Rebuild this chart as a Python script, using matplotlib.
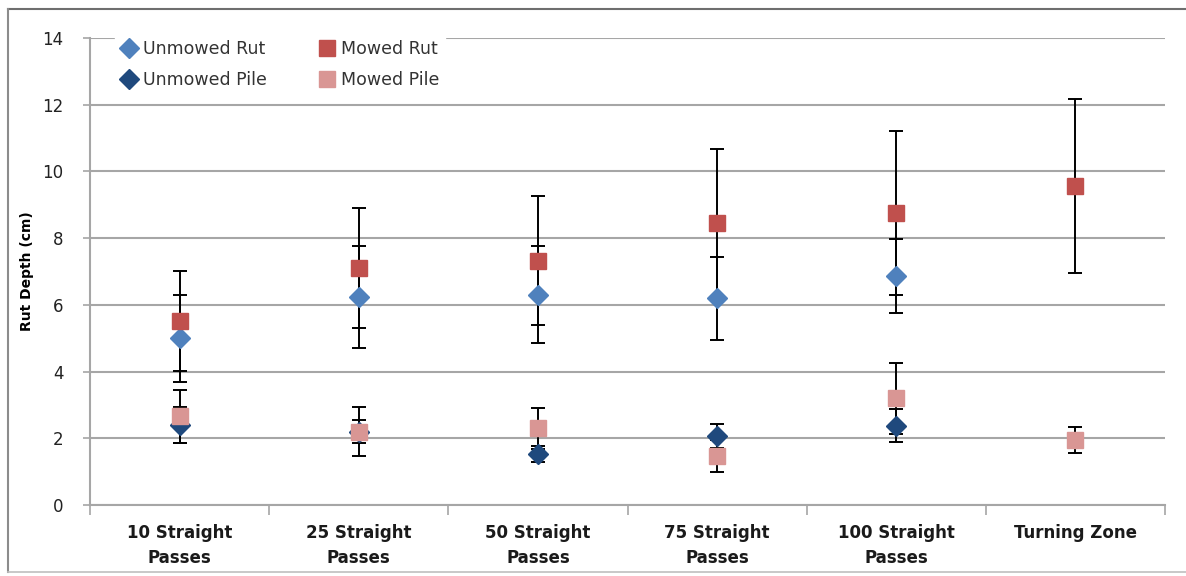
import numpy as np
import matplotlib.pyplot as plt
from matplotlib.lines import Line2D

categories = ["10 Straight\nPasses", "25 Straight\nPasses", "50 Straight\nPasses",
              "75 Straight\nPasses", "100 Straight\nPasses", "Turning Zone"]

# means and error half-widths (cm); NaN = no data
unmowed_rut = [5.0, 6.24, 6.31, 6.2, 6.86, np.nan]
unmowed_rut_err = [1.3, 1.52, 1.45, 1.24, 1.1, np.nan]
unmowed_pile = [2.4, 2.2, 1.53, 2.07, 2.38, np.nan]
unmowed_pile_err = [0.55, 0.35, 0.25, 0.36, 0.5, np.nan]
mowed_rut = [5.52, 7.1, 7.32, 8.46, 8.76, 9.57]
mowed_rut_err = [1.5, 1.8, 1.93, 2.2, 2.46, 2.6]
mowed_pile = [2.66, 2.2, 2.3, 1.47, 3.2, 1.95]
mowed_pile_err = [0.8, 0.73, 0.62, 0.47, 1.07, 0.38]

fig = plt.figure(figsize=(11.86, 5.76), dpi=100)
ax = fig.add_axes([90 / 1186, 1 - 505 / 576, 1075 / 1186, 467 / 576])

x = np.arange(len(categories))

series = [
    ("Unmowed Rut", unmowed_rut, unmowed_rut_err, "D", 10, "#4F81BD"),
    ("Unmowed Pile", unmowed_pile, unmowed_pile_err, "D", 10, "#1F497D"),
    ("Mowed Rut", mowed_rut, mowed_rut_err, "s", 12, "#C0504D"),
    ("Mowed Pile", mowed_pile, mowed_pile_err, "s", 12, "#D99694"),
]

for name, vals, errs, mk, ms, col in series:
    ax.errorbar(x, vals, yerr=errs, fmt="none", ecolor="black", elinewidth=1.4,
                capsize=5, capthick=1.4, zorder=2)
for i, (name, vals, errs, mk, ms, col) in enumerate(series):
    ax.plot(x, vals, linestyle="none", marker=mk, markersize=ms, color=col,
            label=name, zorder=3 + i)

ax.set_xlim(-0.5, len(categories) - 0.5)
ax.set_ylim(0, 14)
ax.set_yticks(np.arange(0, 15, 2))
ax.yaxis.grid(True, color="#A6A6A6", linewidth=1.5)
ax.set_axisbelow(True)

ax.set_xticks(x)
ax.set_xticklabels(categories, fontsize=12, fontweight="bold", linespacing=1.5,
                   color="#1a1a1a")
ax.tick_params(axis="x", length=0, pad=14)
ax.set_xticks(np.arange(-0.5, len(categories)), minor=True)
ax.tick_params(axis="x", which="minor", length=7, color="#A6A6A6", width=1.2)
ax.tick_params(axis="y", length=5, color="#A6A6A6", width=1.2, labelsize=12,
               labelcolor="#222222", pad=14)

for s in ["top", "right"]:
    ax.spines[s].set_visible(False)
for s in ["left", "bottom"]:
    ax.spines[s].set_color("#A6A6A6")
    ax.spines[s].set_linewidth(1.5)

ax.set_ylabel("Rut Depth (cm)", fontsize=10, fontweight="bold", labelpad=6)

leg = ax.legend(ncol=2, loc="upper left", bbox_to_anchor=(0.015, 1.025),
                frameon=True, fontsize=12.5, handletextpad=0.3, columnspacing=3.0,
                labelspacing=0.75, borderpad=0.3, handlelength=1.0)
leg.get_frame().set_edgecolor("white")
leg.get_frame().set_facecolor("white")
leg.get_frame().set_alpha(1)
for t in leg.get_texts():
    t.set_color("#333333")

# outer chart border: left, top, bottom only
x0, y_top, y_bot = 8 / 1186, 1 - 9 / 576, 1 - 572 / 576
fig.add_artist(Line2D([x0, 1.0], [y_top, y_top], transform=fig.transFigure,
                      color="#6E6E6E", linewidth=1.5))
fig.add_artist(Line2D([x0, x0], [y_bot, y_top], transform=fig.transFigure,
                      color="#8C8C8C", linewidth=1.5))
fig.add_artist(Line2D([x0, 1.0], [y_bot, y_bot], transform=fig.transFigure,
                      color="#BFBFBF", linewidth=1.2))

fig.savefig("out.png", dpi=100)
